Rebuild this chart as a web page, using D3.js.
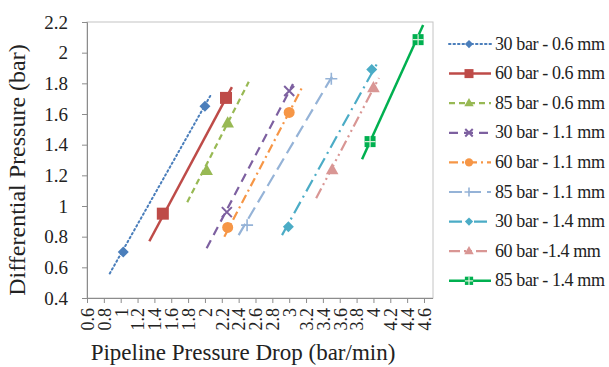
<!DOCTYPE html>
<html>
<head>
<meta charset="utf-8">
<script src="https://cdn.jsdelivr.net/npm/d3@7"></script>
<style>
  body { margin: 0; background: #fff; }
  svg { display: block; }
  svg text { font-family: "Liberation Serif", "DejaVu Serif", serif; }
</style>
</head>
<body>
<svg id="chart" width="609" height="367"></svg>
<script>
// series labels, as in the legend
const seriesNames = [
    "30 bar - 0.6 mm", "60 bar - 0.6 mm", "85 bar - 0.6 mm",
    "30 bar - 1.1 mm", "60 bar - 1.1 mm", "85 bar - 1.1 mm",
    "30 bar - 1.4 mm", "60 bar -1.4 mm", "85 bar - 1.4 mm"
];

// measured points (pipeline pressure drop, differential pressure)
const markerX = [
    [1.03, 2.00], [1.50, 2.25], [2.02, 2.27],
    [2.26, 3.00], [2.27, 3.00], [2.50, 3.50],
    [2.99, 3.98], [3.51, 4.00], [3.96, 4.53]
];
const markerY = [
    [0.70, 1.65], [0.95, 1.705], [1.23, 1.54],
    [0.96, 1.75], [0.86, 1.61], [0.875, 1.83],
    [0.865, 1.89], [1.235, 1.77], [1.42, 2.085]
];

// linear fit lines, start and end
const lineX = [
    [0.87, 2.07], [1.34, 2.32], [1.79, 2.52],
    [2.02, 3.045], [2.23, 3.16], [2.40, 3.52],
    [2.915, 4.04], [3.32, 4.065], [3.865, 4.59]
];
const lineY = [
    [0.56, 1.725], [0.77, 1.775], [1.025, 1.81],
    [0.725, 1.795], [0.80, 1.78], [0.81, 1.855],
    [0.81, 1.925], [1.05, 1.835], [1.305, 2.18]
];

const xTicks = d3.range(0.6, 4.61, 0.2).map(d => +d.toFixed(1));
const yTicks = d3.range(0.4, 2.21, 0.2).map(d => +d.toFixed(1));

const colors = ["#4a7ebb", "#be4b48", "#98b954", "#7d60a0", "#f69646",
                "#95b3d7", "#4bacc6", "#d99694", "#00b050"];
const dashes = ["1.5,3", null, "6,4", "9,6", "9,4,2,4",
                "13,6", "13,5,2,5", "11,4,2,4,2,4", null];
const widths = [2, 2.5, 2.2, 2.2, 2.2, 2.2, 2.2, 2.2, 2.5];
const shapes = ["diamond", "square", "triangle", "cross", "circle",
                "plus", "diamond", "triangle", "squarePlus"];

const svg = d3.select("#chart");
const plotLeft = 87, plotRight = 433, plotTop = 22, plotBottom = 298;

const x = d3.scaleLinear().domain([0.6, 4.707]).range([plotLeft, plotRight]);
const y = d3.scaleLinear().domain([0.4, 2.2]).range([plotBottom, plotTop]);

// plot border
svg.append("rect")
    .attr("x", plotLeft).attr("y", plotTop)
    .attr("width", plotRight - plotLeft).attr("height", plotBottom - plotTop)
    .attr("fill", "none").attr("stroke", "#c4c4c4").attr("stroke-width", 1);

// y axis
const yAxis = svg.append("g")
    .attr("transform", `translate(${plotLeft},0)`)
    .call(d3.axisLeft(y).tickValues(yTicks).tickSize(5).tickPadding(14)
        .tickFormat(d => d3.format("~g")(d)));
yAxis.attr("font-family", null);
yAxis.select(".domain").attr("stroke", "#8c8c8c");
yAxis.selectAll(".tick line").attr("stroke", "#8c8c8c");
yAxis.selectAll("text")
    .attr("fill", "#222").style("font-size", "19px");

// x axis
const xAxis = svg.append("g")
    .attr("transform", `translate(0,${plotBottom})`)
    .call(d3.axisBottom(x).tickValues(xTicks).tickSize(5)
        .tickFormat(d => d3.format("~g")(d)));
xAxis.attr("font-family", null);
xAxis.select(".domain").attr("stroke", "#8c8c8c")
    .attr("d", `M${plotLeft},0.5H${plotRight}`);
xAxis.selectAll(".tick line").attr("stroke", "#8c8c8c");
xAxis.selectAll("text")
    .attr("fill", "#222").style("font-size", "18px")
    .attr("text-anchor", "end")
    .attr("dy", "0.35em")
    .attr("transform", "translate(0,10) rotate(-90)")
    .attr("x", 0).attr("y", 0);

// axis titles
svg.append("text")
    .attr("transform", `translate(25,170) rotate(-90)`)
    .attr("text-anchor", "middle")
    .style("font-size", "24px").attr("fill", "#222")
    .text("Differential Pressure (bar)");

svg.append("text")
    .attr("x", 243).attr("y", 360)
    .attr("text-anchor", "middle")
    .style("font-size", "23px").attr("fill", "#222")
    .text("Pipeline Pressure Drop (bar/min)");

function drawMarker(g, shape, color, cx, cy, scale) {
    const s = scale || 1;
    if (shape === "diamond") {
        const r = 5.5 * s;
        g.append("path")
            .attr("d", `M${cx},${cy - r}L${cx + r},${cy}L${cx},${cy + r}L${cx - r},${cy}Z`)
            .attr("fill", color);
    } else if (shape === "square") {
        const r = 6 * s;
        g.append("rect").attr("x", cx - r).attr("y", cy - r)
            .attr("width", 2 * r).attr("height", 2 * r).attr("fill", color);
    } else if (shape === "triangle") {
        const r = 7 * s;
        g.append("path")
            .attr("d", `M${cx},${cy - r}L${cx + r * 0.9},${cy + r * 0.6}L${cx - r * 0.9},${cy + r * 0.6}Z`)
            .attr("fill", color);
    } else if (shape === "cross") {
        const r = 5 * s;
        g.append("path")
            .attr("d", `M${cx - r},${cy - r}L${cx + r},${cy + r}M${cx - r},${cy + r}L${cx + r},${cy - r}`)
            .attr("stroke", color).attr("stroke-width", 2);
    } else if (shape === "circle") {
        g.append("circle").attr("cx", cx).attr("cy", cy).attr("r", 5.5 * s).attr("fill", color);
    } else if (shape === "plus") {
        const r = 6 * s;
        g.append("path")
            .attr("d", `M${cx - r},${cy}L${cx + r},${cy}M${cx},${cy - r}L${cx},${cy + r}`)
            .attr("stroke", color).attr("stroke-width", 1.6);
    } else if (shape === "squarePlus") {
        const r = 5.5 * s;
        g.append("rect").attr("x", cx - r).attr("y", cy - r)
            .attr("width", 2 * r).attr("height", 2 * r).attr("fill", color);
        g.append("path")
            .attr("d", `M${cx - r},${cy}L${cx + r},${cy}M${cx},${cy - r}L${cx},${cy + r}`)
            .attr("stroke", "#d8f0d8").attr("stroke-width", 1.2);
    }
}

// series lines and markers
const plot = svg.append("g");
for (let i = 0; i < seriesNames.length; i++) {
    plot.append("line")
        .attr("x1", x(lineX[i][0])).attr("y1", y(lineY[i][0]))
        .attr("x2", x(lineX[i][1])).attr("y2", y(lineY[i][1]))
        .attr("stroke", colors[i])
        .attr("stroke-width", widths[i])
        .attr("stroke-dasharray", dashes[i])
        .attr("stroke-linecap", i === 0 ? "round" : "butt");
    for (let j = 0; j < markerX[i].length; j++) {
        drawMarker(plot, shapes[i], colors[i], x(markerX[i][j]), y(markerY[i][j]));
    }
}

// legend
const legend = svg.append("g");
seriesNames.forEach((name, i) => {
    const ly = 44 + i * 29.6;
    legend.append("line")
        .attr("x1", 449).attr("x2", 491)
        .attr("y1", ly).attr("y2", ly)
        .attr("stroke", colors[i])
        .attr("stroke-width", widths[i])
        .attr("stroke-dasharray", dashes[i])
        .attr("stroke-linecap", i === 0 ? "round" : "butt");
    drawMarker(legend, shapes[i], colors[i], 469, ly, 0.75);
    legend.append("text")
        .attr("x", 495).attr("y", ly + 5.5)
        .style("font-size", "18px").attr("fill", "#222")
        .attr("letter-spacing", "-0.4")
        .text(name);
});
</script>
</body>
</html>
